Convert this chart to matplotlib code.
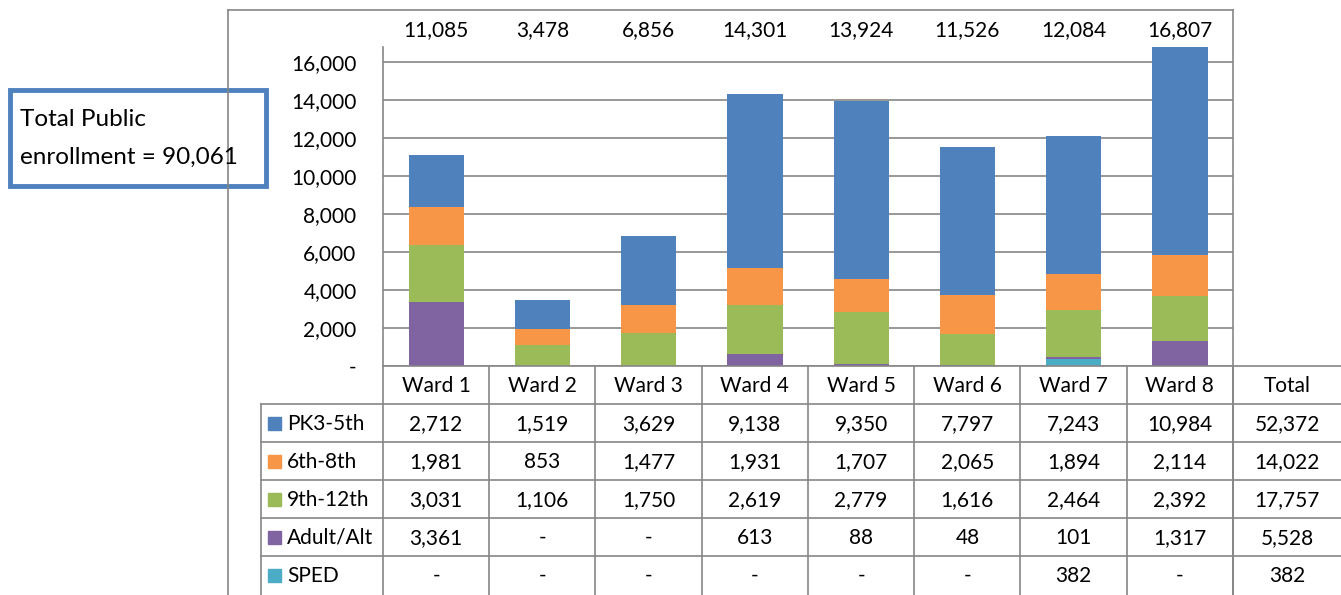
import matplotlib
matplotlib.use("Agg")
import matplotlib.pyplot as plt
from matplotlib.patches import Rectangle

plt.rcParams['font.family'] = ['Lato', 'DejaVu Sans']

wards = ["Ward 1", "Ward 2", "Ward 3", "Ward 4", "Ward 5", "Ward 6", "Ward 7", "Ward 8"]
series = ["PK3-5th", "6th-8th", "9th-12th", "Adult/Alt", "SPED"]
pk3_5th = [2712, 1519, 3629, 9138, 9350, 7797, 7243, 10984]
g6_8th = [1981, 853, 1477, 1931, 1707, 2065, 1894, 2114]
g9_12th = [3031, 1106, 1750, 2619, 2779, 1616, 2464, 2392]
adult_alt = [3361, 0, 0, 613, 88, 48, 101, 1317]
sped = [0, 0, 0, 0, 0, 0, 382, 0]
colors = ["#4F81BD", "#F79646", "#9BBB59", "#8064A2", "#4BACC6"]
yticks = [0, 2000, 4000, 6000, 8000, 10000, 12000, 14000, 16000]

rows = [pk3_5th, g6_8th, g9_12th, adult_alt, sped]
fs = 15


def fmt(v):
    return "-" if v == 0 else f"{v:,}"


W, H = 1341, 595
fig = plt.figure(figsize=(W / 100, H / 100), dpi=100)

# plot area in pixel coords
px_l, px_r, px_t, px_b = 383, 1233, 47, 366
ax = fig.add_axes([px_l / W, 1 - px_b / H, (px_r - px_l) / W, (px_b - px_t) / H])
x = list(range(len(wards)))
# stack bottom-up: SPED, Adult/Alt, 9th-12th, 6th-8th, PK3-5th
bottom = [0] * len(wards)
for vals, c in reversed(list(zip(rows, colors))):
    ax.bar(x, vals, bottom=bottom, width=0.52, color=c, zorder=3)
    bottom = [b + v for b, v in zip(bottom, vals)]
totals = bottom
ax.set_xlim(-0.5, len(wards) - 0.5)
ax.set_ylim(0, 16790)
ax.set_yticks(yticks)
ax.set_yticklabels([fmt(t) for t in yticks], fontsize=fs)
ax.tick_params(axis="y", length=0, pad=19)
ax.set_xticks([])
ax.grid(axis="y", color="#868686", lw=1.2, zorder=0)
for s in ["top", "right", "bottom"]:
    ax.spines[s].set_visible(False)
ax.spines["left"].set_color("#868686")
ax.spines["left"].set_linewidth(1.2)

# overlay in pixel coords for frame, table, text box
ov = fig.add_axes([0, 0, 1, 1])
ov.set_xlim(0, W)
ov.set_ylim(H, 0)
ov.axis("off")
gc = "#868686"
lw = 1.2

# chart frame
ov.plot([228, 1233], [10, 10], color=gc, lw=lw)
ov.plot([228, 228], [10, H], color=gc, lw=lw)
ov.plot([1233, 1233], [10, H], color=gc, lw=lw)

col_w = (px_r - px_l) / len(wards)
row_h = 38
# column x edges
edges = [px_l + i * col_w for i in range(len(wards) + 1)] + [W]
centers = [(edges[i] + edges[i + 1]) / 2 for i in range(len(edges) - 1)]

# total labels above the bars
for cx, t in zip(centers[:-1], totals):
    ov.text(cx, 30, fmt(t), ha="center", va="center", fontsize=fs)

# table grid
ov.plot([px_l, W], [px_b, px_b], color=gc, lw=lw)
for k in range(1, len(series) + 1):
    y = px_b + k * row_h
    ov.plot([261, W], [y, y], color=gc, lw=lw)
ov.plot([261, 261], [px_b + row_h, H], color=gc, lw=lw)
for e in edges[:-1]:
    ov.plot([e, e], [px_b, H], color=gc, lw=lw)

headers = wards + ["Total"]
for cx, h in zip(centers, headers):
    ov.text(cx, px_b + row_h / 2 + 1, h, ha="center", va="center", fontsize=fs)

for k, (name, vals, c) in enumerate(zip(series, rows, colors)):
    yc = px_b + (k + 1.5) * row_h + 1
    ov.add_patch(Rectangle((268, yc - 7), 13, 13, color=c))
    ov.text(287, yc, name, ha="left", va="center", fontsize=fs)
    for cx, v in zip(centers, vals + [sum(vals)]):
        ov.text(cx, yc, fmt(v), ha="center", va="center", fontsize=fs)

# total enrollment box
grand = sum(sum(r) for r in rows)
ov.add_patch(Rectangle((10, 90), 256, 96, fill=True, facecolor="white",
                       edgecolor="#4F81BD", lw=3.5))
ov.text(20, 119, "Total Public", ha="left", va="center", fontsize=17.5)
ov.text(20, 157, f"enrollment = {grand:,}", ha="left", va="center", fontsize=17.5)

fig.savefig("out.png", dpi=100)
